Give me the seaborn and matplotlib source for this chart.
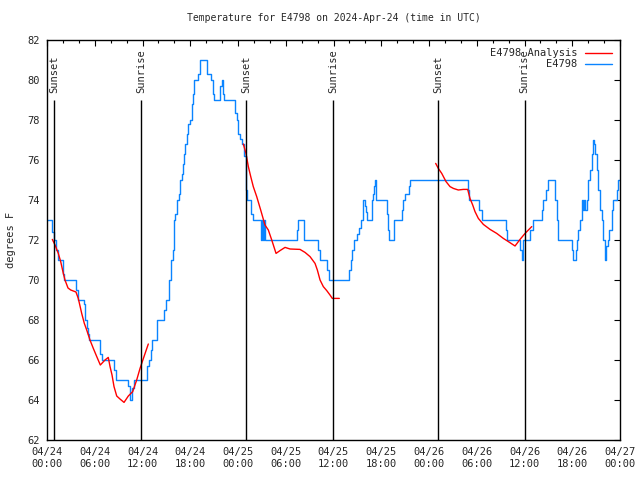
import numpy as np
import pandas as pd
import matplotlib
matplotlib.use('Agg')
import matplotlib.pyplot as plt
import seaborn as sns
from matplotlib.lines import Line2D
from matplotlib.ticker import MultipleLocator

# hours since 2024-04-24 00:00 UTC
obs_hours = [0.0, 0.67, 0.88, 1.13, 1.42, 1.97, 2.17, 3.70, 3.85, 4.69, 4.81, 4.98, 5.19, 5.32,
             6.70, 6.95, 8.46, 8.71, 10.22, 10.43, 10.70, 10.97, 12.53, 12.78, 13.03, 13.15,
             13.78, 14.74, 14.97, 15.29, 15.54, 15.8, 15.9, 16.0, 16.12, 16.3, 16.55, 16.71,
             16.96, 17.13, 17.25, 17.38, 17.55, 17.72, 17.97, 18.18, 18.35, 18.47, 19.01, 19.26,
             20.14, 20.57, 20.82, 20.99, 21.78, 21.99, 22.12, 22.2, 23.59, 23.84, 24.0, 24.25,
             24.5, 24.75, 25.0, 25.1, 25.6, 25.85, 26.85, 27.0, 27.15, 27.3, 27.45, 27.52,
             31.38, 31.5, 32.35, 34.1, 34.3, 35.15, 35.4, 38.0, 38.16, 38.3, 38.6, 38.9,
             39.15, 39.4, 39.67, 39.75, 39.96, 40.05, 40.17, 40.8, 41.0, 41.13, 41.25, 41.34,
             42.69, 42.85, 43.0, 43.6, 44.57, 44.7, 44.99, 45.45, 45.6, 52.86, 53.07, 54.32,
             54.62, 57.7, 57.8, 59.44, 59.65, 59.85, 59.98, 60.69, 61.1, 62.16, 62.37, 62.7,
             62.92, 63.84, 64.05, 64.25, 65.93, 66.14, 66.43, 66.56, 66.69, 66.98, 67.23, 67.33,
             67.42, 67.65, 67.82, 68.02, 68.23, 68.44, 68.57, 68.65, 68.73, 68.86, 69.07, 69.28,
             69.49, 69.7, 69.9, 70.12, 70.25, 70.46, 70.66, 70.96, 71.16, 71.66, 71.79, 72.0]
obs_temps = [73.0, 72.4, 72.0, 71.5, 71.0, 70.3, 70.0, 69.5, 69.0, 68.8, 68.0, 67.6, 67.3, 67.0,
             66.3, 66.0, 65.5, 65.0, 64.7, 64.0, 64.6, 65.0, 65.7, 66.0, 66.5, 67.0,
             68.0, 68.5, 69.0, 70.0, 71.0, 71.5, 72.5, 73.0, 73.3, 74.0, 74.3, 75.0,
             75.3, 75.8, 76.3, 76.8, 77.3, 77.8, 78.0, 78.8, 79.3, 80.0, 80.3, 81.0,
             80.3, 80.0, 79.3, 79.0, 79.7, 80.0, 79.3, 79.0, 78.35, 78.0, 77.3, 77.03,
             76.8, 76.2, 74.5, 74.0, 73.3, 73.0, 72.0, 73.0, 72.0, 73.0, 72.0, 72.0,
             72.5, 73.0, 72.0, 71.5, 71.0, 70.5, 70.0, 70.5, 71.0, 71.5, 72.0, 72.3,
             72.6, 73.0, 73.8, 74.0, 73.7, 73.4, 73.0, 74.0, 74.3, 74.7, 75.0, 74.0,
             73.3, 72.5, 72.0, 73.0, 73.5, 74.0, 74.3, 74.7, 75.0, 74.5, 74.0, 73.5,
             73.0, 72.5, 72.0, 71.5, 71.0, 72.0, 72.0, 72.5, 73.0, 73.5, 74.0, 74.5,
             75.0, 74.0, 73.0, 72.0, 71.5, 71.0, 71.5, 72.0, 72.5, 73.0, 74.0, 73.5,
             74.0, 73.5, 74.0, 75.0, 75.5, 76.3, 76.8, 77.0, 76.8, 76.3, 75.5, 74.5,
             73.5, 73.0, 72.0, 71.0, 71.7, 72.0, 72.5, 73.5, 74.0, 74.5, 75.0, 75.0]

# analysis curve, three separate runs
ana_seg = [1] * 31 + [2] * 26 + [3] * 22
ana_hours = [0.67, 1.01, 1.42, 1.72, 2.05, 2.26, 2.64, 2.98, 3.64, 3.93, 4.36, 4.69, 4.99, 5.40,
             5.82, 6.25, 6.70, 7.29, 7.70, 7.92, 8.17, 8.42, 8.76, 9.17, 9.68, 10.22, 10.77,
             11.27, 11.69, 12.19, 12.73,
             24.67, 25.0, 25.30, 25.60, 25.92, 26.35, 26.85, 27.39, 27.81, 28.24, 28.78, 29.28,
             29.91, 30.54, 31.79, 32.42, 33.05, 33.68, 33.97, 34.31, 34.72, 35.15, 35.56, 35.85,
             36.2, 36.73,
             48.84, 49.17, 49.60, 50.14, 50.64, 51.06, 51.68, 52.31, 52.86, 53.15, 53.49, 53.78,
             54.20, 54.83, 55.67, 56.51, 57.34, 57.97, 58.81, 59.44, 60.07, 60.91]
ana_temps = [72.03, 71.75, 71.33, 70.92, 70.33, 70.0, 69.6, 69.5, 69.4, 69.08, 68.33, 67.83,
             67.5, 67.0, 66.58, 66.17, 65.75, 66.0, 66.13, 65.67, 65.25, 64.67, 64.2, 64.05,
             63.88, 64.2, 64.42, 65.0, 65.58, 66.17, 66.8,
             76.8, 76.33, 75.67, 75.17, 74.67, 74.17, 73.5, 72.75, 72.5, 72.0, 71.33, 71.47,
             71.63, 71.55, 71.53, 71.38, 71.17, 70.83, 70.5, 70.0, 69.67, 69.47, 69.25, 69.08,
             69.08, 69.08,
             75.83, 75.58, 75.33, 74.92, 74.67, 74.58, 74.5, 74.53, 74.53, 74.08, 73.75, 73.42,
             73.08, 72.78, 72.53, 72.33, 72.08, 71.92, 71.7, 72.03, 72.33, 72.67]

event_hours = [0.9, 11.85, 25.0, 35.92, 49.15, 60.0]
event_names = ['Sunset', 'Sunrise', 'Sunset', 'Sunrise', 'Sunset', 'Sunrise']

tick_hours = list(range(0, 73, 6))
tick_labels = ['04/24\n00:00', '04/24\n06:00', '04/24\n12:00', '04/24\n18:00',
               '04/25\n00:00', '04/25\n06:00', '04/25\n12:00', '04/25\n18:00',
               '04/26\n00:00', '04/26\n06:00', '04/26\n12:00', '04/26\n18:00',
               '04/27\n00:00']

sns.set_style('white')
plt.rcParams['font.family'] = ['DejaVu Sans Mono', 'DejaVu Sans']

obs = pd.DataFrame({'hour': obs_hours, 'temp': obs_temps})
ana = pd.DataFrame({'hour': ana_hours, 'temp': ana_temps, 'seg': ana_seg})

red = '#ff0000'
blue = '#0a84ff'

fig = plt.figure(figsize=(6.4, 4.8), dpi=100)
ax = fig.add_axes([47 / 640, 40 / 480, 573 / 640, 400 / 480])

sns.lineplot(data=obs, x='hour', y='temp', color=blue, linewidth=1.0,
             drawstyle='steps-post', sort=False, estimator=None, ax=ax)
sns.lineplot(data=ana, x='hour', y='temp', units='seg', estimator=None,
             color=red, linewidth=1.0, sort=False, ax=ax)

for h, name in zip(event_hours, event_names):
    ax.vlines(h, 62, 79, color='black', linewidth=1.0)
    ax.text(h, 79.35, name, rotation=90, ha='center', va='bottom', fontsize=7.5)

ax.set_xlim(0, 72)
ax.set_ylim(62, 82)
ax.set_xticks(tick_hours)
ax.set_xticklabels(tick_labels)
ax.xaxis.set_minor_locator(MultipleLocator(2))
ax.yaxis.set_major_locator(MultipleLocator(2))
ax.tick_params(which='both', direction='in', top=True, right=True, labelsize=7.5,
               color='black', width=0.8)
ax.tick_params(which='major', length=4, pad=5)
ax.tick_params(which='minor', length=2.5)
for s in ax.spines.values():
    s.set_color('black')
    s.set_linewidth(1.0)

ax.set_xlabel('')
ax.set_ylabel('degrees F', fontsize=7.5, labelpad=8)
ax.set_title('Temperature for E4798 on 2024-Apr-24 (time in UTC)', fontsize=7, pad=14)

handles = [Line2D([], [], color=red, linewidth=1.0), Line2D([], [], color=blue, linewidth=1.0)]
ax.legend(handles, ['E4798 Analysis', 'E4798'], loc='upper right', frameon=False,
          markerfirst=False, fontsize=7.5, handlelength=2.6, borderaxespad=0.4,
          labelspacing=0.1, handletextpad=0.7)

fig.savefig('out.png', dpi=100)
